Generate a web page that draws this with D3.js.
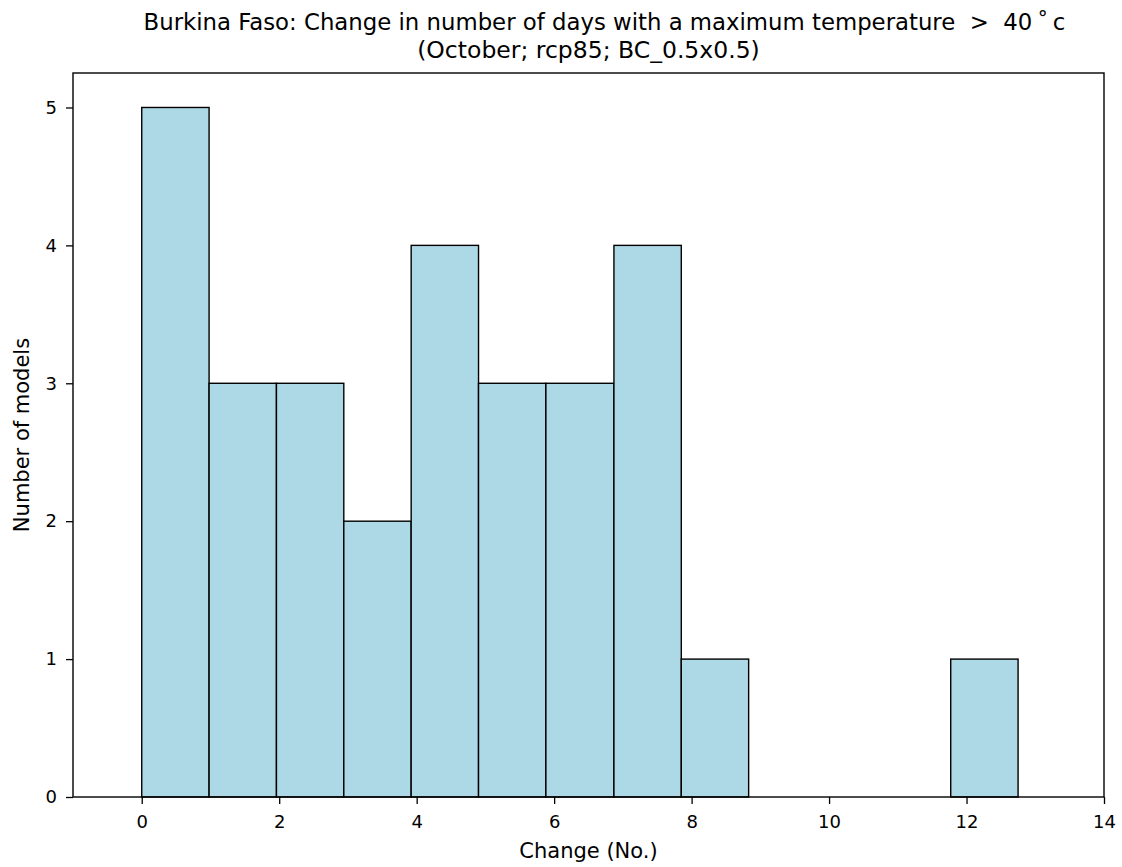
<!DOCTYPE html>
<html>
<head>
<meta charset="utf-8">
<script src="https://cdn.jsdelivr.net/npm/d3@7"></script>
<style>
  html, body { margin: 0; padding: 0; background: #fff; }
  svg { display: block; font-family: "DejaVu Sans", sans-serif; }
  text { white-space: pre; }
</style>
</head>
<body>
<svg id="chart" width="1122" height="867"></svg>
<script>
// Data
const binEdges = [0, 0.98, 1.96, 2.94, 3.92, 4.90, 5.88, 6.87, 7.85, 8.83, 9.81, 10.79, 11.77, 12.75];
const counts = [5, 3, 3, 2, 4, 3, 3, 4, 1, 0, 0, 0, 1];
const xTicks = [0, 2, 4, 6, 8, 10, 12, 14];
const yTicks = [0, 1, 2, 3, 4, 5];
const titleLines = ["Burkina Faso: Change in number of days with a maximum temperature\u00A0\u00A0>\u00A0\u00A040\u2009\u02DA\u2009c",
                    "(October; rcp85; BC_0.5x0.5)"];
const xLabel = "Change (No.)";
const yLabel = "Number of models";

const bins = counts.map((c, i) => ({x0: binEdges[i], x1: binEdges[i + 1], count: c}));

const svg = d3.select("#chart");
const margin = {left: 73, right: 18, top: 73, bottom: 70};
const W = 1122, H = 867;
const x = d3.scaleLinear().domain([-1, 14]).range([margin.left, W - margin.right]);
const y = d3.scaleLinear().domain([0, 5.25]).range([H - margin.bottom, margin.top]);

// bars
svg.append("g").selectAll("rect").data(bins.filter(d => d.count > 0)).join("rect")
  .attr("x", d => x(d.x0))
  .attr("y", d => y(d.count))
  .attr("width", d => x(d.x1) - x(d.x0))
  .attr("height", d => y(0) - y(d.count))
  .attr("fill", "#add8e6")
  .attr("stroke", "#000")
  .attr("stroke-width", 1.4);

// axes
const xAxis = svg.append("g").attr("transform", `translate(0,${y(0)})`)
  .call(d3.axisBottom(x).tickValues(xTicks).tickFormat(d3.format("d")).tickSizeOuter(0).tickSize(7).tickPadding(11));
const yAxis = svg.append("g").attr("transform", `translate(${x(-1)},0)`)
  .call(d3.axisLeft(y).tickValues(yTicks).tickFormat(d3.format("d")).tickSizeOuter(0).tickSize(7).tickPadding(9));
[xAxis, yAxis].forEach(g => {
  g.select(".domain").remove();
  g.selectAll(".tick line").attr("stroke", "#000").attr("stroke-width", 1.3);
  g.selectAll(".tick text").attr("fill", "#000").style("font-size", "18px").style("font-family", "DejaVu Sans");
});

// frame
svg.append("rect")
  .attr("x", x(-1)).attr("y", y(5.25))
  .attr("width", x(14) - x(-1)).attr("height", y(0) - y(5.25))
  .attr("fill", "none").attr("stroke", "#000").attr("stroke-width", 1.4);

// title
const cx = (x(-1) + x(14)) / 2;
svg.append("text").attr("x", cx + 16).attr("y", 30).attr("text-anchor", "middle")
  .style("font-size", "22.8px").text(titleLines[0]);
svg.append("text").attr("x", cx).attr("y", 58).attr("text-anchor", "middle")
  .style("font-size", "23.5px").text(titleLines[1]);

// axis labels
svg.append("text").attr("x", cx).attr("y", 858).attr("text-anchor", "middle")
  .style("font-size", "21px").text(xLabel);
svg.append("text").attr("transform", `translate(28.5,${(y(0) + y(5.25)) / 2}) rotate(-90)`)
  .attr("text-anchor", "middle").style("font-size", "21px").text(yLabel);
</script>
</body>
</html>
